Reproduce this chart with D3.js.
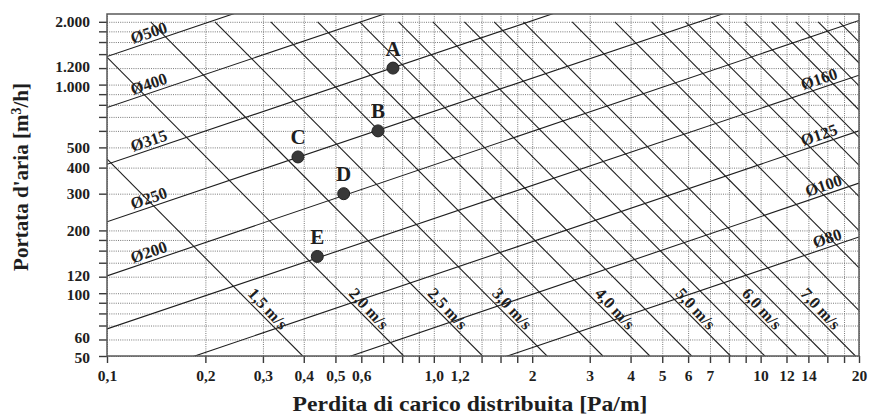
<!DOCTYPE html>
<meta charset="utf-8">
<style>
body { margin: 0; background: #fff; }
svg { display: block; }
text { font-family: "Liberation Serif", "Times New Roman", serif; font-weight: bold; fill: #1e1e1e; }
.grid line { stroke: #6a6a6a; stroke-width: 0.9; stroke-dasharray: 1,1.2; }
.grid .domain { display: none; }
.axis .domain { display: none; }
.axis line { stroke: #3a3a3a; stroke-width: 1.4; }
.axis text { font-size: 15.5px; }
.frame { fill: none; stroke: #5a5a5a; stroke-width: 1.5; }
.dline { fill: none; stroke: #1e1e1e; stroke-width: 1.1; }
.vline { fill: none; stroke: #1e1e1e; stroke-width: 1.1; }
.dlabel { font-size: 16.5px; }
.vlabel { font-size: 16.5px; }
.pt { fill: #383838; stroke: #222; stroke-width: 1; }
.ptlabel { font-size: 21px; }
.title { font-size: 21px; }
</style>
<body>
<svg id="chart" width="870" height="418"></svg>
<script src="https://d3js.org/d3.v7.min.js"></script>
<script>
// x axis: pressure loss [Pa/m]
var xTicks      = [0.1, 0.2, 0.3, 0.4, 0.5, 0.6, 0.7, 0.8, 0.9, 1.0, 1.2, 1.4, 1.6, 1.8, 2, 3, 4, 5, 6, 7, 8, 9, 10, 12, 14, 16, 18, 20];
var xTickLabels = ["0,1","0,2","0,3","0,4","0,5","0,6","","","","1,0","1,2","","","","2","3","4","5","6","7","","","10","12","14","","","20"];

// y axis: air flow [m3/h]
var yTicks      = [50, 60, 70, 80, 90, 100, 120, 140, 160, 180, 200, 300, 400, 500, 600, 700, 800, 900, 1000, 1200, 1400, 1600, 1800, 2000];
var yTickLabels = ["50","60","","","","100","120","","","","200","300","400","500","","","","","1.000","1.200","","","","2.000"];

// duct diameter lines: flow at 0,1 Pa/m and at 20 Pa/m
var diameters   = ["Ø500", "Ø400", "Ø315", "Ø250", "Ø200", "Ø160", "Ø125", "Ø100", "Ø80"];
var diamQLow    = [1364, 776, 415, 220, 121, 67.4, 36, 20, 11.2];
var diamQHigh   = [22500, 12800, 6850, 3630, 2030, 1110, 600, 337, 186];
var diamLabelDp = [0.137, 0.137, 0.137, 0.137, 0.137, 15.4, 15.4, 15.9, 16.3];

// velocity lines: pressure loss where each crosses 50 m3/h and 2000 m3/h
var velocities  = [1.5, 2, 2.5, 3, 3.5, 4, 4.5, 5, 5.5, 6, 6.5, 7, 8, 9, 10, 11, 12, 13, 14, 15, 16, 17, 18];
var velDpAt50   = [0.397, 0.809, 1.41, 2.22, 3.29, 4.58, 6.15, 8.09, 10.3, 12.9, 15.9, 19.5, 27.5, 37.1, 48.1, 61.1, 76.0, 92.5, 112, 132, 156, 181, 210];
var velDpAt2000 = [0.0383, 0.078, 0.136, 0.214, 0.317, 0.441, 0.593, 0.780, 0.993, 1.24, 1.53, 1.88, 2.65, 3.58, 4.64, 5.89, 7.33, 8.92, 10.8, 12.8, 15.0, 17.4, 20.2];
var velLabelled = [1.5, 2, 2.5, 3, 4, 5, 6, 7];
var velLabels   = ["1,5 m/s", "2,0 m/s", "2,5 m/s", "3,0 m/s", "4,0 m/s", "5,0 m/s", "6,0 m/s", "7,0 m/s"];

// operating points
var pointNames = ["A", "B", "C", "D", "E"];
var pointDp    = [0.75, 0.675, 0.384, 0.53, 0.44];
var pointQ     = [1200, 600, 450, 300, 150];

var margin = {top: 14, right: 11, bottom: 62, left: 107},
    width  = 870 - margin.left - margin.right,
    height = 418 - margin.top - margin.bottom;

var svg = d3.select('#chart')
  .append('g')
    .attr('transform', 'translate(' + margin.left + ',' + margin.top + ')');

var x = d3.scaleLog().domain([0.1, 20]).range([0, width]);
var y = d3.scaleLog().domain([50, 2180]).range([height, 0]);

// dotted grid
svg.append('g')
  .attr('class', 'grid')
  .attr('transform', 'translate(0,' + height + ')')
  .call(d3.axisBottom(x).tickValues(xTicks).tickSize(-height).tickFormat(''));
svg.append('g')
  .attr('class', 'grid')
  .call(d3.axisLeft(y).tickValues(yTicks).tickSize(-width).tickFormat(''));

// ticks + labels
svg.append('g')
  .attr('class', 'axis')
  .attr('transform', 'translate(0,' + height + ')')
  .call(d3.axisBottom(x).tickValues(xTicks).tickSize(7).tickPadding(7)
    .tickFormat(function(d, i) { return xTickLabels[i]; }));
var yAxis = svg.append('g')
  .attr('class', 'axis')
  .call(d3.axisLeft(y).tickValues(yTicks).tickSize(8).tickPadding(9)
    .tickFormat(function(d, i) { return yTickLabels[i]; }));
svg.selectAll('.axis').attr('font-family', null).attr('font-size', null);

// the 50/60, 100/120 and 1.000/1.200 labels sit close: nudge them apart a little
yAxis.selectAll('.tick text')
  .attr('dy', function(d) {
    if (d === 60 || d === 120 || d === 1200) return '0.22em';
    if (d === 50 || d === 100 || d === 1000) return '0.42em';
    return '0.32em';
  });

svg.append('clipPath').attr('id', 'plotclip')
  .append('rect').attr('width', width).attr('height', height);

var plot = svg.append('g').attr('clip-path', 'url(#plotclip)');
var line = d3.line().x(function(d) { return x(d[0]); }).y(function(d) { return y(d[1]); });

// diameter lines
plot.selectAll('.dline')
  .data(diameters)
  .enter().append('path')
    .attr('class', 'dline')
    .attr('d', function(d, i) { return line([[0.1, diamQLow[i]], [20, diamQHigh[i]]]); });

// velocity lines
plot.selectAll('.vline')
  .data(velocities)
  .enter().append('path')
    .attr('class', 'vline')
    .attr('d', function(d, i) { return line([[velDpAt50[i], 50], [velDpAt2000[i], 2000]]); });

function logInterp(a, b, t) { return Math.exp(Math.log(a) + t * (Math.log(b) - Math.log(a))); }

// diameter labels
diameters.forEach(function(name, i) {
  var dp = diamLabelDp[i];
  var t = Math.log(dp / 0.1) / Math.log(20 / 0.1);
  var q = logInterp(diamQLow[i], diamQHigh[i], t);
  var ang = Math.atan2(y(diamQHigh[i]) - y(diamQLow[i]), x(20) - x(0.1)) * 180 / Math.PI;
  svg.append('text')
    .attr('class', 'dlabel')
    .attr('transform', 'translate(' + x(dp) + ',' + y(q) + ') rotate(' + ang + ')')
    .attr('text-anchor', 'middle')
    .attr('y', -3.5)
    .text(name);
});

// velocity labels
var labelQ = 79;
velLabelled.forEach(function(v, k) {
  var i = velocities.indexOf(v);
  var t = Math.log(labelQ / 50) / Math.log(2000 / 50);
  var dp = logInterp(velDpAt50[i], velDpAt2000[i], t);
  var ang = Math.atan2(y(50) - y(2000), x(velDpAt50[i]) - x(velDpAt2000[i])) * 180 / Math.PI;
  svg.append('text')
    .attr('class', 'vlabel')
    .attr('transform', 'translate(' + x(dp) + ',' + y(labelQ) + ') rotate(' + (ang + 2) + ')')
    .attr('text-anchor', 'middle')
    .attr('dominant-baseline', 'central')
    .attr('y', -8.5)
    .text(velLabels[k]);
});

// frame
svg.append('rect')
  .attr('class', 'frame')
  .attr('width', width)
  .attr('height', height);

// points
svg.selectAll('.pt')
  .data(pointNames)
  .enter().append('circle')
    .attr('class', 'pt')
    .attr('cx', function(d, i) { return x(pointDp[i]); })
    .attr('cy', function(d, i) { return y(pointQ[i]); })
    .attr('r', 6);
svg.selectAll('.ptlabel')
  .data(pointNames)
  .enter().append('text')
    .attr('class', 'ptlabel')
    .attr('text-anchor', 'middle')
    .attr('x', function(d, i) { return x(pointDp[i]); })
    .attr('y', function(d, i) { return y(pointQ[i]) - 12.5; })
    .text(function(d) { return d; });

// axis titles
d3.select('#chart').append('text')
  .attr('class', 'title')
  .attr('x', 470)
  .attr('y', 411)
  .attr('text-anchor', 'middle')
  .attr('textLength', 355)
  .attr('lengthAdjust', 'spacingAndGlyphs')
  .text('Perdita di carico distribuita [Pa/m]');

var yt = d3.select('#chart').append('text')
  .attr('class', 'title')
  .attr('transform', 'translate(28,177) rotate(-90)')
  .attr('text-anchor', 'middle');
yt.append('tspan').text("Portata d'aria [m");
yt.append('tspan').attr('dy', -7).style('font-size', '14px').text('3');
yt.append('tspan').attr('dy', 7).text('/h]');
</script>
</body>
